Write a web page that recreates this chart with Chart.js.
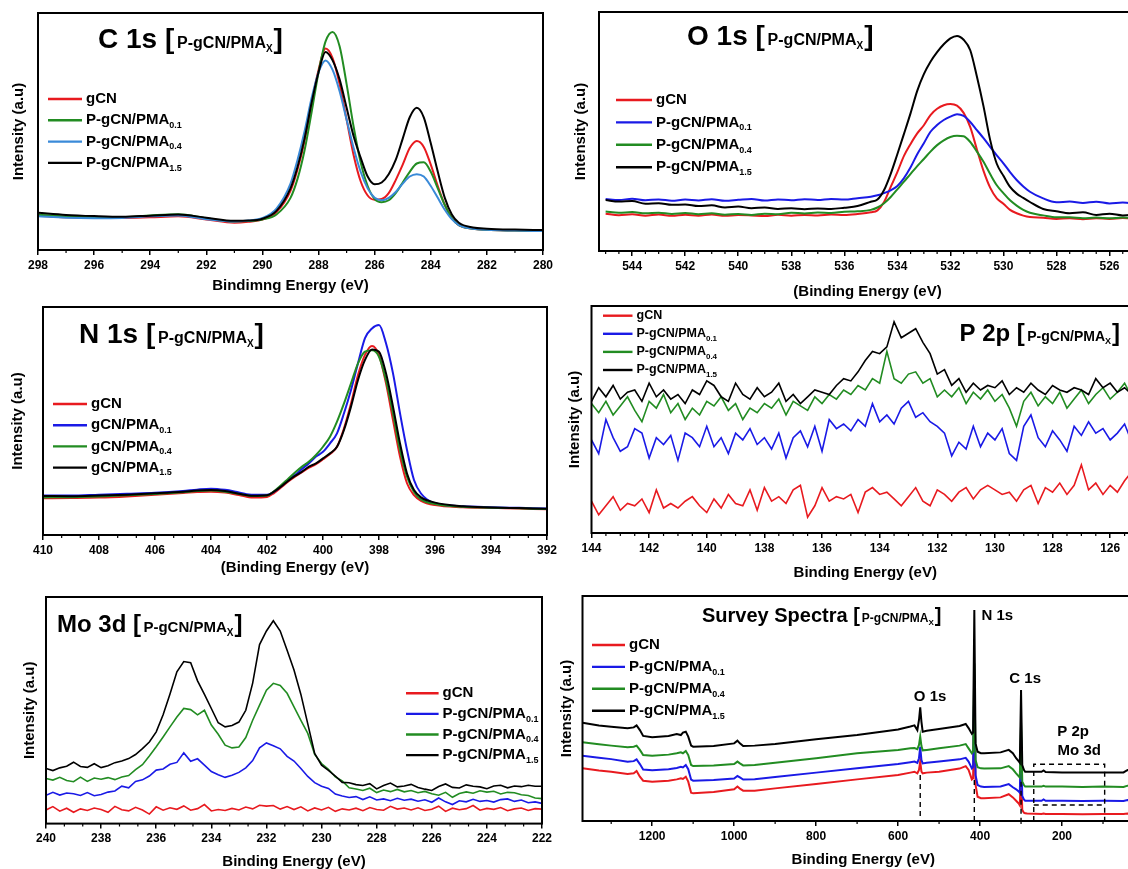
<!DOCTYPE html>
<html>
<head>
<meta charset="utf-8">
<script src="https://cdn.jsdelivr.net/npm/chart.js@4.4.1/dist/chart.umd.min.js"></script>
<style>
  html, body { margin: 0; padding: 0; background: #fff; width: 1128px; height: 869px; overflow: hidden; }
  canvas { position: absolute; }
</style>
</head>
<body>
<canvas id="c1s"></canvas>
<canvas id="o1s"></canvas>
<canvas id="n1s"></canvas>
<canvas id="p2p"></canvas>
<canvas id="mo3d"></canvas>
<canvas id="survey"></canvas>
<script>
// sample names, legend order
const sampleNames = ['gCN', 'P-gCN/PMA', 'P-gCN/PMA', 'P-gCN/PMA'];
const sampleSubs = ['', '0.1', '0.4', '1.5'];
const n1sNames = ['gCN', 'gCN/PMA', 'gCN/PMA', 'gCN/PMA'];

// ---- C 1s ----
const c1sEnergy = [298, 297, 296, 295, 294, 293, 292, 291, 290.5, 290,
  289.5, 289, 288.75, 288.5, 288.25, 288, 287.75, 287.5, 287.25, 287,
  286.75, 286.5, 286.25, 286, 285.75, 285.5, 285.25, 285, 284.75, 284.5,
  284.25, 284, 283.75, 283.5, 283.25, 283, 282.5, 282, 281, 280];
const c1sGcn = [14.5, 13.8, 13.6, 13.5, 13.8, 14.2, 12.9, 11.5, 11.9, 12.8,
  16, 25, 34, 46, 62, 76, 85, 81, 70, 55,
  40, 29, 23, 21.2, 21.5, 24, 29.5, 36, 43, 46,
  43.5, 36, 27, 19, 13.5, 10.5, 9, 8.5, 8.2, 8];
const c1sPma01 = [14.9, 14.2, 13.9, 13.9, 14.6, 15.1, 13.4, 12.0, 12.2, 12.9,
  15, 22, 30, 42, 58, 75, 88, 92, 86, 70,
  52, 37, 27, 21.5, 20.2, 21, 24, 28.5, 33, 36.5,
  37, 33, 26, 19, 13.5, 10.5, 9, 8.5, 8.2, 8];
const c1sPma04 = [14.2, 13.6, 13.4, 13.5, 14.2, 14.6, 13.0, 12.0, 12.4, 13.5,
  17.5, 28, 38, 50, 64, 75, 80, 76, 67, 55,
  43, 33, 26, 22, 21, 22, 24.5, 28, 31, 32,
  31, 27, 22, 17, 13, 10.5, 9, 8.5, 8.2, 8];
const c1sPma15 = [15.7, 14.8, 14.3, 14.0, 14.5, 15.0, 13.6, 12.3, 12.4, 13.2,
  16.5, 26, 35, 47, 62, 75, 83.5, 80, 72, 60,
  48, 39, 31, 27.7, 28.5, 32, 38, 47, 56, 60,
  56, 45, 33, 22, 15, 11.5, 9.5, 9, 8.6, 8.4];

// ---- O 1s ----
const o1sEnergy = [545, 544.5, 544, 543.5, 543, 542.5, 542, 541.5, 541, 540.5,
  540, 539.5, 539, 538.5, 538, 537.5, 537, 536.5, 536, 535.5,
  535, 534.75, 534.5, 534.25, 534, 533.75, 533.5, 533.25, 533, 532.75,
  532.5, 532.25, 532, 531.75, 531.5, 531.25, 531, 530.75, 530.5, 530.25,
  530, 529.75, 529.5, 529.25, 529, 528.5, 528, 527.5, 527, 526.5,
  526, 525.5, 525];
const o1sGcn = [15.6, 15.0, 15.4, 14.8, 15.3, 14.7, 15.2, 14.8, 15.3, 14.7,
  15.1, 14.9, 14.6, 15.2, 14.8, 15.1, 14.9, 15.3, 15.1, 15.5,
  16.2, 17.0, 20.5, 26.8, 33.0, 39.8, 44.8, 49.2, 52.6, 56.9,
  59.5, 61.0, 61.5, 60.8, 57.8, 51.8, 42.5, 33.5, 26.5, 22.0,
  19.8, 17.2, 15.8, 14.8, 14.2, 13.9, 13.4, 13.7, 13.3, 13.7,
  13.4, 13.8, 13.5];
const o1sPma01 = [21.8, 21.3, 21.9, 21.2, 21.6, 21.0, 21.5, 21.1, 21.7, 21.0,
  21.4, 21.8, 21.1, 21.6, 21.2, 21.7, 21.3, 21.8, 21.5, 22.1,
  22.7, 23.3, 24.2, 25.4, 27.2, 30.5, 35.0, 40.5, 45.1, 49.9,
  52.7, 54.8, 56.2, 57.2, 56.5, 54.0, 50.6, 47.2, 43.6, 40.0,
  36.7, 33.0, 29.7, 27.0, 24.8, 22.0, 20.4, 20.7, 20.1, 20.6,
  19.9, 20.3, 19.8];
const o1sPma04 = [16.5, 16.0, 16.3, 15.8, 16.0, 15.5, 15.9, 15.4, 15.8, 15.2,
  15.5, 15.1, 15.6, 15.4, 16.0, 15.7, 16.1, 15.9, 16.4, 16.6,
  17.2, 18.2, 20.0, 22.6, 25.8, 29.0, 32.3, 35.5, 38.5, 41.6,
  44.3, 46.3, 47.7, 48.2, 48.0, 45.6, 41.6, 37.3, 32.2, 27.5,
  24.2, 21.2, 19.0, 17.2, 16.0, 14.9, 14.1, 14.1, 13.7, 14.0,
  13.7, 14.0, 13.7];
const o1sPma15 = [21.3, 20.7, 20.9, 19.8, 20.0, 19.3, 19.5, 18.8, 19.1, 18.2,
  18.6, 17.9, 18.2, 17.6, 17.9, 17.5, 17.8, 17.6, 18.1, 18.8,
  20.6, 21.5, 25.5, 32.3, 40.5, 49.0, 57.7, 67.0, 74.0, 79.2,
  83.2, 86.5, 89.0, 90.0, 88.4, 84.0, 73.0, 60.5, 46.5, 36.5,
  31.5, 26.8, 24.0, 22.2, 20.5, 17.6, 16.6, 15.8, 16.2, 15.1,
  15.6, 14.9, 15.3];

// ---- N 1s ----
const n1sEnergy = [410, 409, 408, 407, 406, 405, 404.5, 404, 403.5, 403,
  402.5, 402, 401.75, 401.5, 401.25, 401, 400.75, 400.5, 400.25, 400,
  399.75, 399.5, 399.25, 399, 398.75, 398.5, 398.25, 398, 397.75, 397.5,
  397.25, 397, 396.75, 396.5, 396, 395, 394, 393, 392];
const n1sGcn = [16.1, 16.2, 16.4, 16.9, 17.6, 18.4, 18.9, 19.0, 18.6, 17.5,
  16.4, 16.7, 18.4, 20.8, 23.4, 25.6, 27.6, 29.5, 31.1, 33.2,
  35.5, 38.7, 46.8, 57.7, 70.2, 79.0, 82.9, 78.9, 66.5, 50.4,
  34.4, 22.7, 17.5, 15.0, 13.1, 12.2, 11.9, 11.6, 11.3];
const n1sPma01 = [17.3, 17.3, 17.7, 18.1, 18.5, 19.3, 19.9, 20.3, 19.8, 18.7,
  17.6, 17.6, 19.0, 21.4, 24.0, 26.3, 29.0, 31.5, 34.4, 36.5,
  40.2, 44.6, 53.4, 63.6, 75.3, 86.3, 90.6, 92.1, 84.1, 70.9,
  53.4, 37.3, 24.1, 18.2, 13.9, 12.6, 12.2, 11.9, 11.6];
const n1sPma04 = [16.5, 16.6, 16.9, 17.4, 18.0, 18.8, 19.3, 19.5, 19.0, 18.0,
  17.1, 17.3, 19.2, 21.8, 24.6, 27.4, 30.0, 32.2, 35.1, 38.7,
  43.1, 49.7, 57.7, 66.5, 75.3, 80.4, 81.0, 78.2, 67.9, 53.4,
  37.3, 25.6, 18.9, 15.6, 13.6, 12.4, 12.0, 11.7, 11.4];
const n1sPma15 = [17.1, 17.0, 17.3, 17.7, 18.3, 19.0, 19.5, 19.7, 19.3, 18.1,
  17.2, 17.4, 19.0, 21.2, 23.7, 25.9, 27.8, 30.0, 31.4, 33.6,
  35.8, 38.7, 46.1, 56.3, 68.0, 76.8, 81.4, 80.4, 70.9, 56.3,
  40.2, 27.0, 19.7, 16.5, 14.2, 12.6, 12.1, 11.8, 11.5];

// ---- P 2p ----
const p2pEnergy = [144, 143.75, 143.5, 143.25, 143, 142.75, 142.5, 142.25, 142, 141.75,
  141.5, 141.25, 141, 140.75, 140.5, 140.25, 140, 139.75, 139.5, 139.25,
  139, 138.75, 138.5, 138.25, 138, 137.75, 137.5, 137.25, 137, 136.75,
  136.5, 136.25, 136, 135.75, 135.5, 135.25, 135, 134.75, 134.5, 134.25,
  134, 133.75, 133.5, 133.25, 133, 132.75, 132.5, 132.25, 132, 131.75,
  131.5, 131.25, 131, 130.75, 130.5, 130.25, 130, 129.75, 129.5, 129.25,
  129, 128.75, 128.5, 128.25, 128, 127.75, 127.5, 127.25, 127, 126.75,
  126.5, 126.25, 126, 125.75, 125.5, 125.25, 125];
const p2pGcn = [14, 8, 12, 16, 10, 13, 12, 15, 9, 19,
  11, 13, 11, 14, 16, 12, 9, 15, 11, 17,
  13, 12, 19, 10, 20, 14, 16, 13, 19, 21,
  7, 12, 20, 14, 16, 15, 17, 9, 18, 20,
  17, 18, 15, 12, 16, 20, 14, 12, 19, 17,
  14, 18, 20, 15, 19, 21, 19, 17, 18, 14,
  19, 21, 13, 20, 18, 22, 17, 21, 30, 19,
  22, 17, 21, 18, 23, 27, 22];
const p2pPma01 = [41, 35, 50, 42, 36, 38, 46, 44, 33, 42,
  39, 43, 32, 44, 42, 38, 47, 38, 42, 35,
  44, 41, 46, 39, 42, 37, 44, 33, 42, 45,
  38, 47, 36, 50, 46, 48, 45, 50, 47, 57,
  49, 52, 48, 55, 58, 51, 53, 49, 47, 44,
  34, 40, 37, 47, 38, 44, 41, 46, 35, 32,
  47, 52, 42, 38, 45, 41, 36, 47, 43, 49,
  44, 46, 41, 44, 48, 40, 43];
const p2pPma04 = [57, 53, 58, 52, 56, 60, 54, 49, 58, 55,
  61, 53, 57, 50, 55, 52, 58, 56, 60, 54,
  57, 50, 55, 53, 57, 55, 59, 52, 58, 56,
  54, 60, 57, 61, 59, 63, 61, 65, 63, 68,
  66, 80, 68, 66, 70, 71, 66, 68, 60, 63,
  60, 64, 57, 62, 59, 63, 58, 61, 55, 47,
  58, 62, 56, 60, 57, 62, 55, 59, 63, 57,
  61, 64, 59, 62, 66, 60, 63];
const p2pPma15 = [58, 64, 60, 65, 59, 62, 63, 58, 66, 60,
  63, 59, 61, 57, 63, 61, 67, 65, 60, 58,
  66, 61, 59, 64, 60, 62, 66, 58, 61, 57,
  60, 63, 62, 61, 65, 68, 67, 71, 76, 80,
  79, 82, 93, 86, 88, 90, 84, 79, 70, 72,
  65, 68, 62, 66, 63, 65, 64, 67, 61, 64,
  62, 66, 63, 61, 65, 63, 62, 64, 63, 61,
  68, 64, 66, 62, 64, 61, 66];

// ---- Mo 3d ----
const mo3dEnergy = [240, 239.75, 239.5, 239.25, 239, 238.75, 238.5, 238.25, 238, 237.75,
  237.5, 237.25, 237, 236.75, 236.5, 236.25, 236, 235.75, 235.5, 235.25,
  235, 234.75, 234.5, 234.25, 234, 233.75, 233.5, 233.25, 233, 232.75,
  232.5, 232.25, 232, 231.75, 231.5, 231.25, 231, 230.75, 230.5, 230.25,
  230, 229.75, 229.5, 229.25, 229, 228.75, 228.5, 228.25, 228, 227.75,
  227.5, 227.25, 227, 226.75, 226.5, 226.25, 226, 225.75, 225.5, 225.25,
  225, 224.75, 224.5, 224.25, 224, 223.75, 223.5, 223.25, 223, 222.75,
  222.5, 222.25, 222];
const mo3dGcn = [6.0, 7.5, 5.5, 6.8, 5.0, 6.5, 5.8, 6.9, 6.2, 5.0,
  7.6, 6.1, 5.6, 7.2, 6.0, 4.2, 7.4, 5.9, 7.0, 6.3,
  7.8, 5.9, 6.6, 8.4, 5.6, 6.2, 5.8, 6.7, 6.0, 7.3,
  6.5, 8.1, 7.7, 8.0, 6.4, 7.5, 6.2, 7.4, 5.6, 6.9,
  6.0, 7.2, 5.4, 6.5, 6.0, 6.8, 5.7, 7.1, 6.2, 5.9,
  7.6, 6.4, 6.9, 6.0, 7.0, 5.8, 6.3, 7.7, 5.4, 6.8,
  6.1, 6.6, 8.0, 5.9, 6.7, 6.3, 7.1, 5.7, 6.5, 6.9,
  5.8, 6.6, 6.4];
const mo3dPma01 = [12.5, 13.8, 12.6, 13.5, 13.2, 12.4, 13.7, 12.3, 12.8, 13.9,
  14.4, 16.5, 15.8, 18.6, 19.3, 21.0, 23.6, 24.1, 26.2, 27.0,
  31.2, 27.5, 28.6, 25.8, 23.0, 21.6, 20.4, 21.3, 22.6, 24.6,
  27.8, 33.4, 35.6, 34.4, 33.0, 29.7, 27.6, 24.3, 20.8, 18.1,
  16.5, 15.5, 13.0, 12.2, 11.5, 11.9, 10.6, 11.8, 10.4, 10.9,
  10.1, 11.2, 10.3, 10.8, 9.9, 10.5, 9.4, 11.3, 9.6, 8.4,
  10.1, 9.6, 10.7, 9.8, 10.2, 9.5, 10.6, 10.9, 9.8, 10.4,
  9.2, 9.6, 8.9];
const mo3dPma04 = [19.9, 19.2, 20.4, 19.0, 18.5, 20.5, 18.6, 20.1, 19.6, 20.3,
  19.4, 20.6, 21.2, 23.8, 26.0, 29.8, 33.9, 38.2, 42.7, 47.0,
  50.8, 50.3, 48.0, 50.0, 43.5, 39.4, 34.6, 33.4, 33.8, 38.0,
  45.6, 52.3, 58.9, 61.9, 61.0, 57.5, 51.5, 45.6, 39.8, 30.5,
  26.5, 24.0, 20.6, 18.8, 15.8, 15.3, 14.6, 15.6, 13.7, 14.8,
  14.1, 15.1, 14.0, 14.6, 13.6, 14.2, 13.2, 12.5, 13.8, 11.6,
  13.3, 14.0, 13.4, 14.5, 13.9, 14.3, 13.1, 13.8, 13.6, 12.7,
  12.4, 11.3, 11.0];
const mo3dPma15 = [24.3, 23.4, 24.6, 25.3, 27.1, 25.2, 24.8, 26.4, 24.7, 25.5,
  26.9, 27.6, 28.7, 30.5, 33.1, 36.0, 40.5, 48.0, 57.2, 67.0,
  71.5, 71.0, 63.0, 57.0, 50.8, 44.5, 42.7, 43.3, 44.8, 50.0,
  62.0, 79.0, 85.0, 89.5, 85.0, 76.5, 67.8, 57.0, 44.0, 31.0,
  25.8, 23.5, 21.0, 18.2, 18.0, 17.2, 16.8, 17.6, 15.3, 16.8,
  17.9, 16.2, 16.6, 17.3, 15.9, 15.2, 14.6, 16.4, 17.5, 16.0,
  15.7, 17.1, 16.5, 16.2, 15.4, 16.6, 16.9, 15.8, 16.6, 16.3,
  16.9, 16.5, 16.5];

// ---- survey ----
const surveyEnergy = [1370, 1330, 1300, 1260, 1245, 1238, 1230, 1222, 1200, 1160,
  1140, 1130, 1125, 1118, 1112, 1105, 1100, 1050, 1000, 992,
  986, 978, 950, 900, 800, 700, 600, 570, 560, 553,
  549, 546, 543, 540, 530, 500, 450, 435, 428, 420,
  417, 414, 411, 406, 398, 390, 350, 330, 320, 312,
  305, 303, 300, 297, 293, 290, 285, 250, 245, 240,
  200, 150, 100, 50, 40, 0];
const surveyGcn = [23.4, 22.4, 21.9, 20.9, 21.2, 22.2, 19.7, 17.9, 17.5, 17.9,
  18.5, 19.0, 18.7, 19.7, 17.5, 12.6, 12.3, 12.9, 14.1, 15.3,
  14.4, 13.5, 13.5, 14.5, 16.4, 18.5, 20.4, 21.5, 21.9, 21.2,
  22.7, 26.4, 21.9, 21.2, 21.5, 21.9, 23.3, 24.4, 22.7, 18.5,
  19.0, 55.3, 16.0, 10.8, 10.1, 10.1, 10.5, 11.9, 10.5, 9.0,
  7.6, 7.0, 23.6, 4.9, 3.7, 3.4, 3.3, 3.1, 3.3, 3.1,
  3.1, 3.0, 3.1, 3.1, 3.3, 3.1];
const surveyPma01 = [29.0, 28.1, 27.5, 26.3, 26.6, 27.4, 25.3, 22.9, 22.6, 23.0,
  23.6, 24.1, 23.8, 24.9, 23.0, 18.4, 17.9, 18.2, 18.9, 20.0,
  19.4, 18.4, 18.6, 19.6, 21.5, 23.4, 25.3, 26.1, 26.4, 25.8,
  27.9, 33.0, 27.1, 25.6, 25.9, 26.4, 27.4, 28.1, 26.4, 23.4,
  24.1, 62.7, 20.4, 16.0, 15.3, 15.1, 15.3, 16.4, 15.0, 14.1,
  13.0, 12.6, 37.5, 11.1, 9.6, 9.0, 9.0, 9.0, 9.6, 9.0,
  9.0, 8.9, 9.0, 8.9, 9.3, 9.0];
const surveyPma04 = [35.0, 34.1, 33.5, 32.8, 33.0, 33.5, 31.6, 29.3, 29.0, 29.5,
  30.1, 30.5, 30.1, 31.1, 29.3, 24.9, 24.4, 24.7, 25.3, 26.4,
  25.6, 24.7, 24.9, 25.9, 27.9, 30.1, 31.6, 32.3, 32.4, 31.9,
  33.8, 37.5, 33.3, 31.4, 31.6, 32.3, 33.5, 34.2, 32.3, 30.1,
  30.8, 70.0, 27.1, 23.9, 23.4, 23.3, 23.4, 24.4, 23.0, 21.2,
  19.7, 19.3, 43.4, 17.5, 16.0, 15.3, 15.3, 15.3, 15.6, 15.3,
  15.3, 15.1, 15.3, 15.1, 15.7, 15.3];
const surveyPma15 = [43.7, 42.4, 41.9, 41.2, 41.6, 42.5, 40.4, 37.8, 37.2, 37.8,
  38.7, 38.2, 39.3, 39.7, 37.5, 33.5, 33.0, 33.3, 34.5, 35.7,
  34.5, 33.3, 33.5, 34.2, 36.3, 38.2, 40.7, 42.0, 42.5, 40.4,
  44.9, 50.5, 44.1, 39.7, 40.1, 40.9, 42.2, 43.1, 41.3, 38.7,
  39.3, 93.8, 34.5, 30.8, 30.1, 30.1, 30.5, 31.6, 30.1, 27.9,
  26.4, 25.9, 58.2, 24.9, 22.7, 21.9, 21.9, 21.9, 22.5, 21.8,
  21.6, 21.6, 21.6, 21.6, 22.7, 21.9];

const RED = '#e81a1f', GREEN = '#228c22', BLUE = '#1a1ae6', SKY = '#3a8ad8', BLACK = '#000000';
const FONT = '"Liberation Sans", Arial, sans-serif';
Chart.defaults.font.family = FONT;
Chart.defaults.color = '#000';

function bold(size) { return 'bold ' + size + 'px ' + FONT; }

// element heading like "C 1s [P-gCN/PMAx]"
function drawHeading(ctx, x, y, h) {
  ctx.textAlign = 'left';
  ctx.textBaseline = 'alphabetic';
  ctx.font = bold(h.size);
  const lead = h.text + ' [';
  ctx.fillText(lead, x, y);
  let cx = x + ctx.measureText(lead).width + h.size * 0.1;
  ctx.font = bold(h.inner);
  ctx.fillText('P-gCN/PMA', cx, y);
  cx += ctx.measureText('P-gCN/PMA').width;
  ctx.font = bold(h.sub);
  ctx.fillText('X', cx, y + h.sub * 0.35);
  cx += ctx.measureText('X').width + 1;
  ctx.font = bold(h.size);
  ctx.fillText(']', cx, y);
}

const panelText = {
  id: 'panelText',
  afterDraw(chart, args, o) {
    const ctx = chart.ctx, a = chart.chartArea, sx = chart.scales.x, sy = chart.scales.y;
    ctx.save();
    ctx.fillStyle = '#000';
    ctx.strokeStyle = '#000';

    // box round the plot
    ctx.lineWidth = 2;
    ctx.strokeRect(a.left, a.top, a.right - a.left, a.bottom - a.top);

    // minor ticks between the labelled ones
    const ms = o.step / (o.minor + 1);
    ctx.lineWidth = 1.2;
    ctx.beginPath();
    for (let k = Math.ceil(sx.min / ms - 1e-9); k <= Math.floor(sx.max / ms + 1e-9); k++) {
      if (k % (o.minor + 1) === 0) continue;
      const px = sx.getPixelForValue(k * ms);
      ctx.moveTo(px, a.bottom);
      ctx.lineTo(px, a.bottom + 3);
    }
    ctx.stroke();

    // survey guides
    if (o.guides) {
      ctx.setLineDash([5, 4]);
      ctx.lineWidth = 1.4;
      ctx.beginPath();
      o.guides.forEach(g => {
        const px = sx.getPixelForValue(g.x);
        ctx.moveTo(px, sy.getPixelForValue(g.y));
        ctx.lineTo(px, a.bottom);
      });
      if (o.box) {
        const b = o.box;
        const x1 = sx.getPixelForValue(b.x1), x2 = sx.getPixelForValue(b.x2);
        const y1 = sy.getPixelForValue(b.y1), y2 = sy.getPixelForValue(b.y2);
        ctx.moveTo(x1, a.bottom); ctx.lineTo(x1, y1); ctx.lineTo(x2, y1); ctx.lineTo(x2, a.bottom);
        ctx.moveTo(x1, y2); ctx.lineTo(x2, y2);
      }
      ctx.stroke();
      ctx.setLineDash([]);
    }
    if (o.notes) {
      ctx.font = bold(15);
      ctx.textAlign = 'center';
      ctx.textBaseline = 'middle';
      o.notes.forEach(n => ctx.fillText(n.text, sx.getPixelForValue(n.x), sy.getPixelForValue(n.y)));
    }

    drawHeading(ctx, a.left + o.heading.dx, a.top + o.heading.dy, o.heading);

    // legend with subscripted loadings
    const L = o.legend;
    chart.data.datasets.forEach((ds, i) => {
      const y = a.top + L.dy + i * L.gap;
      const x0 = a.left + L.dx;
      ctx.strokeStyle = ds.borderColor;
      ctx.lineWidth = 2.4;
      ctx.beginPath();
      ctx.moveTo(x0, y);
      ctx.lineTo(x0 + L.len, y);
      ctx.stroke();
      ctx.textAlign = 'left';
      ctx.textBaseline = 'middle';
      ctx.font = bold(L.size);
      const tx = x0 + L.len + 4;
      ctx.fillText(ds.label, tx, y);
      if (ds.sub) {
        const w = ctx.measureText(ds.label).width;
        ctx.font = bold(Math.round(L.size * 0.62));
        ctx.fillText(ds.sub, tx + w, y + L.size * 0.36);
      }
    });
    ctx.restore();
  }
};

function makePanel(id, p) {
  const cv = document.getElementById(id);
  const padTop = 10, padRight = 20;
  const canvasLeft = Math.round(p.yTitleX - 9);
  const yw = p.left - canvasLeft;
  const plotW = p.right - p.left, plotH = p.bottom - p.top;
  cv.width = Math.round(yw + plotW + padRight);
  cv.height = Math.round(padTop + plotH + p.xh);
  cv.style.left = canvasLeft + 'px';
  cv.style.top = Math.round(p.top - padTop) + 'px';

  const datasets = p.series.map((vals, i) => ({
    label: p.names[i],
    sub: sampleSubs[i],
    data: p.energy.map((e, j) => ({ x: e, y: vals[j] })),
    borderColor: p.colors[i],
    borderWidth: p.lineWidth,
    pointRadius: 0,
    fill: false,
    tension: 0,
    cubicInterpolationMode: p.smooth ? 'monotone' : 'default',
    order: 3 - i
  }));

  new Chart(cv, {
    type: 'line',
    data: { datasets },
    options: {
      responsive: false,
      animation: false,
      devicePixelRatio: 1,
      events: [],
      layout: { padding: { top: padTop, right: padRight, left: 0, bottom: 0 } },
      plugins: {
        legend: { display: false },
        tooltip: { enabled: false },
        panelText: {
          step: p.step, minor: p.minor, heading: p.heading, legend: p.legend,
          guides: p.guides, box: p.box, notes: p.notes
        }
      },
      scales: {
        x: {
          type: 'linear',
          reverse: true,
          min: p.xMin,
          max: p.xMax,
          afterFit: s => { s.height = p.xh; },
          // labelled ticks on whole multiples of the step only
          afterBuildTicks: s => {
            const t = [];
            for (let k = Math.ceil(s.min / p.step - 1e-9); k <= Math.floor(s.max / p.step + 1e-9); k++) {
              t.push({ value: k * p.step });
            }
            s.ticks = t;
          },
          ticks: {
            autoSkip: false, maxRotation: 0,
            padding: 3, color: '#000', font: { size: 12, weight: 'bold' },
            callback: v => String(v)
          },
          grid: { display: true, drawOnChartArea: false, drawTicks: true, tickLength: 5, color: '#000', lineWidth: 1.5 },
          border: { display: false },
          title: { display: true, text: p.xTitle, color: '#000', padding: 0, font: { size: 15, weight: 'bold' } }
        },
        y: {
          min: 0,
          max: 100,
          afterFit: s => { s.width = yw; },
          ticks: { display: false },
          grid: { display: false },
          border: { display: false },
          title: { display: true, text: 'Intensity (a.u)', color: '#000', padding: 0, font: { size: 15, weight: 'bold' } }
        }
      }
    },
    plugins: [panelText]
  });
}

makePanel('c1s', {
  left: 38, top: 13, right: 543, bottom: 250, yTitleX: 19, xh: 45,
  xMin: 280, xMax: 298, step: 2, minor: 1, xTitle: 'Bindimng Energy (eV)',
  energy: c1sEnergy, series: [c1sGcn, c1sPma01, c1sPma04, c1sPma15],
  names: sampleNames, colors: [RED, GREEN, SKY, BLACK], lineWidth: 2, smooth: true,
  heading: { text: 'C 1s', size: 28, inner: 16, sub: 10, dx: 60, dy: 35 },
  legend: { dx: 10, dy: 86, gap: 21.3, len: 34, size: 15 }
});

makePanel('o1s', {
  left: 599, top: 12, right: 1135.5, bottom: 251, yTitleX: 581, xh: 50,
  xMin: 525, xMax: 545.25, step: 2, minor: 3, xTitle: '(Binding Energy (eV)',
  energy: o1sEnergy, series: [o1sGcn, o1sPma01, o1sPma04, o1sPma15],
  names: sampleNames, colors: [RED, BLUE, GREEN, BLACK], lineWidth: 2, smooth: true,
  heading: { text: 'O 1s', size: 28, inner: 16, sub: 10, dx: 88, dy: 33 },
  legend: { dx: 17, dy: 88, gap: 22.4, len: 36, size: 15 }
});

makePanel('n1s', {
  left: 43, top: 307, right: 547, bottom: 535, yTitleX: 18, xh: 42,
  xMin: 392, xMax: 410, step: 2, minor: 2, xTitle: '(Binding Energy (eV)',
  energy: n1sEnergy, series: [n1sGcn, n1sPma01, n1sPma04, n1sPma15],
  names: n1sNames, colors: [RED, BLUE, GREEN, BLACK], lineWidth: 2, smooth: true,
  heading: { text: 'N 1s', size: 28, inner: 16, sub: 10, dx: 36, dy: 36 },
  legend: { dx: 10, dy: 97, gap: 21.2, len: 34, size: 15 }
});

makePanel('p2p', {
  left: 591.5, top: 306, right: 1138.7, bottom: 532.7, yTitleX: 574.5, xh: 49,
  xMin: 125, xMax: 144, step: 2, minor: 3, xTitle: 'Binding Energy (eV)',
  energy: p2pEnergy, series: [p2pGcn, p2pPma01, p2pPma04, p2pPma15],
  names: sampleNames, colors: [RED, BLUE, GREEN, BLACK], lineWidth: 1.6, smooth: false,
  heading: { text: 'P 2p', size: 24, inner: 14, sub: 9, dx: 368, dy: 35 },
  legend: { dx: 11.5, dy: 9.7, gap: 18.1, len: 29.5, size: 12.5 }
});

makePanel('mo3d', {
  left: 46, top: 597, right: 542, bottom: 823.3, yTitleX: 30.4, xh: 47.4,
  xMin: 222, xMax: 240, step: 2, minor: 2, xTitle: 'Binding Energy (eV)',
  energy: mo3dEnergy, series: [mo3dGcn, mo3dPma01, mo3dPma04, mo3dPma15],
  names: sampleNames, colors: [RED, BLUE, GREEN, BLACK], lineWidth: 1.6, smooth: false,
  heading: { text: 'Mo 3d', size: 24, inner: 15, sub: 10, dx: 11, dy: 35 },
  legend: { dx: 360, dy: 96.3, gap: 20.6, len: 32.6, size: 15 }
});

makePanel('survey', {
  left: 582.5, top: 596, right: 1144.2, bottom: 821, yTitleX: 566.5, xh: 48,
  xMin: 0, xMax: 1370, step: 200, minor: 1, xTitle: 'Binding Energy (eV)',
  energy: surveyEnergy, series: [surveyGcn, surveyPma01, surveyPma04, surveyPma15],
  names: sampleNames, colors: [RED, BLUE, GREEN, BLACK], lineWidth: 2, smooth: false,
  heading: { text: 'Survey Spectra', size: 20, inner: 12, sub: 8, dx: 119.5, dy: 26 },
  legend: { dx: 9.5, dy: 49, gap: 21.9, len: 33, size: 15 },
  guides: [{ x: 546, y: 20.4 }, { x: 414, y: 18.2 }, { x: 300, y: 17.5 }],
  box: { x1: 269, x2: 96, y1: 25.2, y2: 7.1 },
  notes: [
    { text: 'O 1s', x: 522, y: 55.2 },
    { text: 'N 1s', x: 358, y: 91 },
    { text: 'C 1s', x: 290, y: 63 },
    { text: 'P 2p', x: 173, y: 39.7 },
    { text: 'Mo 3d', x: 158, y: 31 }
  ]
});
</script>
</body>
</html>
